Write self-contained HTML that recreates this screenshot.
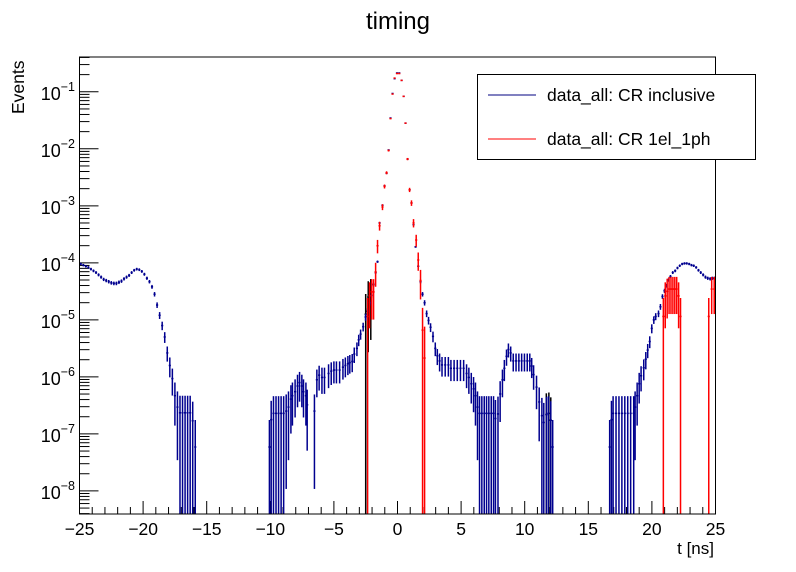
<!DOCTYPE html>
<html><head><meta charset="utf-8"><style>
html,body{margin:0;padding:0;background:#fff;}
svg{display:block;font-family:"Liberation Sans",sans-serif;}
</style></head><body>
<svg id="chart" width="796" height="572" viewBox="0 0 796 572" xmlns="http://www.w3.org/2000/svg">
<text x="398" y="29" font-size="24" text-anchor="middle">timing</text>
<g id="ticks"></g>
<g id="marks" clip-path="url(#fc)"></g>
<clipPath id="fc"><rect x="79.5" y="57" width="636" height="457"/></clipPath>
<rect x="79.5" y="57" width="636" height="457" fill="none" stroke="#000" stroke-width="1"/>
<text x="714" y="554" font-size="17" text-anchor="end">t [ns]</text>
<text transform="translate(24,114) rotate(-90)" font-size="17.5">Events</text>
<g>
<rect x="477.5" y="74.5" width="278" height="85" fill="#fff" stroke="#000"/>
<line x1="488" y1="95" x2="536" y2="95" stroke="#000080" stroke-width="1"/>
<text x="547" y="101" font-size="17.5">data_all: CR inclusive</text>
<line x1="488" y1="139" x2="536" y2="139" stroke="#f00" stroke-width="1"/>
<text x="547" y="145" font-size="17.5">data_all: CR 1el_1ph</text>
</g>
</svg>
<script>
// bin centers (ns) and log10(Events) for "CR inclusive"
const inclusiveT = [-24.9,-24.7,-24.5,-24.3,-24.1,-23.9,-23.7,-23.5,-23.3,-23.1,-22.9,-22.7,-22.5,-22.3,-22.1,-21.9,-21.7,-21.5,-21.3,-21.1,-20.9,-20.7,-20.5,-20.3,-20.1,-19.9,-19.7,-19.5,-19.3,-19.1,-18.9,-18.7,-18.5,-18.3,-18.1,-17.9,-17.7,-17.5,-17.3,-17.1,-16.9,-16.7,-16.5,-16.3,-16.1,-15.9,
-10.07,-9.93,-9.75,-9.55,-9.35,-9.15,-8.95,-8.75,-8.57,-8.38,-8.26,-8.05,-7.86,-7.7,-7.52,-7.39,-7.2,-7.1,-6.53,-6.34,-6.16,-5.94,-5.74,-5.42,-5.21,-5.0,-4.8,-4.55,-4.29,-4.1,-3.9,-3.75,-3.56,-3.4,-3.19,-3.05,-2.9,-2.7,-2.51,-2.35,-2.17,-2.03,-1.88,-1.72,-1.57,
-1.41,-1.18,-1.02,-0.86,-0.7,-0.55,-0.39,-0.23,-0.04,0.14,0.32,0.48,0.63,0.79,0.95,1.1,1.26,1.42,1.63,1.81,1.97,
2.13,2.29,2.44,2.6,2.79,2.97,3.13,3.31,3.5,3.75,4.0,4.2,4.45,4.7,4.95,5.2,5.43,5.61,5.8,5.98,6.13,6.29,6.45,6.63,6.82,7.0,7.18,7.37,7.55,7.7,7.9,8.07,8.25,8.4,8.57,8.72,8.9,9.1,9.32,9.54,9.76,9.98,10.2,10.4,10.55,10.7,10.93,11.14,11.35,11.5,11.71,11.87,12.05,12.2,
16.68,16.82,16.95,17.18,17.41,17.64,17.87,18.1,18.33,18.57,18.68,18.84,19.0,19.15,19.36,19.52,19.67,19.83,19.99,20.15,20.3,20.52,20.67,20.83,20.99,21.14,21.3,21.46,21.64,21.83,22.01,22.19,22.38,22.56,22.74,22.93,23.11,23.29,23.48,23.66,23.84,24.03,24.21,24.39,24.58,24.76,24.94];
const inclusiveLog10 = [-4.02,-4.04,-4.06,-4.08,-4.11,-4.14,-4.17,-4.21,-4.25,-4.29,-4.31,-4.33,-4.35,-4.36,-4.36,-4.34,-4.32,-4.28,-4.25,-4.22,-4.17,-4.13,-4.11,-4.12,-4.15,-4.2,-4.27,-4.33,-4.42,-4.55,-4.74,-4.92,-5.1,-5.3,-5.58,-5.8,-6.03,-6.33,-6.53,-6.63,-6.63,-6.63,-6.63,-6.63,-6.77,-7.23,
-7.23,-6.75,-6.64,-6.64,-6.64,-6.64,-6.64,-6.6,-6.53,-6.39,-6.33,-6.26,-6.16,-6.1,-6.16,-6.26,-6.33,-6.49,-6.6,-6.05,-5.97,-6.01,-6.01,-5.94,-5.9,-5.88,-5.88,-5.88,-5.83,-5.8,-5.77,-5.75,-5.73,-5.6,-5.5,-5.35,-5.25,-5.12,-4.95,-4.85,-4.7,-4.57,-4.38,-4.17,-3.98,
-3.3,-2.99,-2.65,-2.43,-2.02,-1.46,-1.03,-0.77,-0.67,-0.67,-0.8,-1.08,-1.55,-2.18,-2.72,-2.95,-3.33,-3.72,-4.06,-4.33,-4.55,
-4.7,-4.89,-5.01,-5.13,-5.29,-5.5,-5.63,-5.72,-5.79,-5.79,-5.79,-5.85,-5.85,-5.85,-5.85,-5.85,-5.94,-6.01,-6.12,-6.21,-6.33,-6.53,-6.64,-6.64,-6.64,-6.64,-6.64,-6.64,-6.64,-6.73,-6.65,-6.3,-6.05,-5.85,-5.64,-5.52,-5.58,-5.72,-5.72,-5.72,-5.72,-5.72,-5.72,-5.72,-5.81,-5.96,-6.18,-6.44,-6.68,-6.8,-6.66,-6.64,-6.76,-7.23,
-7.23,-6.75,-6.64,-6.64,-6.64,-6.64,-6.64,-6.64,-6.64,-6.64,-6.53,-6.33,-6.12,-5.98,-5.84,-5.69,-5.53,-5.38,-5.15,-5.0,-4.94,-4.89,-4.77,-4.59,-4.49,-4.4,-4.3,-4.24,-4.17,-4.14,-4.09,-4.05,-4.02,-4.01,-4.01,-4.02,-4.04,-4.05,-4.08,-4.13,-4.17,-4.21,-4.25,-4.27,-4.28,-4.27,-4.27];
// black overlay bins (ns) and log10(Events)
const blackT = [-2.5,-2.3,-2.1];
const blackLog10 = [-4.9,-4.6,-4.55];
const blackT2 = [11.7,11.9,12.05];
const blackLog10b = [-6.66,-6.64,-6.76];
// bin centers (ns) and log10(Events) for "CR 1el_1ph"
const selT = [-2.35,-2.2,-2.03,-1.88,-1.72,-1.57,-1.41,-1.18,-1.02,-0.86,-0.7,-0.55,-0.39,-0.23,-0.04,0.14,0.32,0.48,0.63,0.79,0.95,1.1,1.26,1.47,1.63,1.81,1.97,2.13,
20.9,21.05,21.2,21.35,21.5,21.65,21.8,21.95,22.1,22.25,24.47,24.7,24.9];
const selLog10 = [-4.94,-4.58,-4.51,-4.51,-4.16,-3.7,-3.35,-3.02,-2.66,-2.42,-2.03,-1.47,-1.04,-0.76,-0.68,-0.68,-0.8,-1.08,-1.55,-2.18,-2.72,-2.95,-3.3,-3.6,-3.95,-4.31,-5.18,-5.67,
-4.94,-4.58,-4.5,-4.46,-4.46,-4.46,-4.46,-4.46,-4.58,-4.94,-4.94,-4.46,-4.46];
const xTickLabels = ["\u221225","\u221220","\u221215","\u221210","\u22125","0","5","10","15","20","25"];
const yDecadeLabels = ["\u22128","\u22127","\u22126","\u22125","\u22124","\u22123","\u22122","\u22121"];

const X0=79.5,X1=715.5,Y0=514,Y1=57, TMIN=-25,TMAX=25, LMIN=-8.405, LMAX=-0.39;
const xs = t => X0+(t-TMIN)/(TMAX-TMIN)*(X1-X0);
const ys = l => Y0-(l-LMIN)/(LMAX-LMIN)*(Y0-Y1);
const NS="http://www.w3.org/2000/svg";
function mk(tag, attrs, parent){const e=document.createElementNS(NS,tag);for(const k in attrs)e.setAttribute(k,attrs[k]);parent.appendChild(e);return e;}
const ticks=document.getElementById('ticks'), marks=document.getElementById('marks');

for(let t=-25;t<=25;t++){
  const major=(t%5===0);
  const l=mk('line',{x1:xs(t),x2:xs(t),y1:Y0,y2:Y0-(major?13:7),stroke:'#000','stroke-width':1},ticks);
  
  
}
xTickLabels.forEach((s,i)=>{
  const t=-25+5*i;
  const tx=mk('text',{x:xs(t),y:535,'font-size':17.5,'text-anchor':'middle'},ticks);
  tx.textContent=s;
  
  
});
for(let d=-9;d<=0;d++){
  for(let m=1;m<=9;m++){
    const l=d+Math.log10(m);
    if(l<LMIN||l>LMAX)continue;
    const y=ys(l);
    const ln=mk('line',{x1:X0,x2:X0+(m===1?19:10),y1:y,y2:y,stroke:'#000','stroke-width':1},ticks);
    
    
  }
}
yDecadeLabels.forEach((s,i)=>{
  const y=ys(-8+i);
  const tx=mk('text',{x:75,y:y+8,'font-size':18,'text-anchor':'end'},ticks);
  const b=mk('tspan',{},tx); b.textContent='10';
  const sp=mk('tspan',{dy:-9,'font-size':12.5},tx); sp.textContent=s;
  
  
});

function drawSeries(T, L, color, w, name){
  const bw=0.17;
  T.forEach((t,i)=>{
    const v=Math.pow(10,L[i]);
    const err=Math.sqrt(v*w);
    const lo=v-err>0?Math.log10(v-err):-20;
    const hi=Math.log10(v+err);
    const g=mk('g',{stroke:color,'stroke-width':1.5},marks);
    
    
    mk('line',{x1:xs(t-bw/2),x2:xs(t+bw/2),y1:ys(L[i]),y2:ys(L[i])},g);
    mk('line',{x1:xs(t),x2:xs(t),y1:ys(hi),y2:Math.min(ys(lo),Y0+5)},g);
  });
}
drawSeries(blackT, blackLog10, '#000000', 2.0e-5, 'inclusive-black');
drawSeries(blackT2, blackLog10b, '#000000', 4.0e-7, 'inclusive-black');
drawSeries(inclusiveT, inclusiveLog10, '#00008f', 2.3e-7, 'inclusive');
drawSeries(selT, selLog10, '#ff0000', 1.4e-5, 'sel-1el1ph');
</script>
</body></html>
